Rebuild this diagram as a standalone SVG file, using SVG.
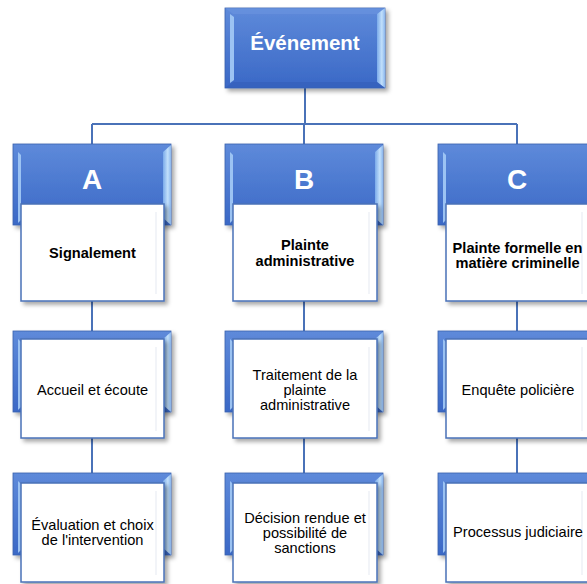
<svg xmlns="http://www.w3.org/2000/svg" width="587" height="584" viewBox="0 0 587 584">
<defs>
<linearGradient id="face" x1="0" y1="0" x2="0" y2="1">
<stop offset="0" stop-color="#5e8ada"/>
<stop offset="1" stop-color="#3a68c6"/>
</linearGradient>
<linearGradient id="rbev" x1="0" y1="0" x2="1" y2="0">
<stop offset="0" stop-color="#7aaaea"/>
<stop offset="0.6" stop-color="#c2e0fb"/>
<stop offset="1" stop-color="#8ab6ee"/>
</linearGradient>
<filter id="sh" x="-10%" y="-10%" width="130%" height="130%">
<feDropShadow dx="3" dy="3" stdDeviation="2" flood-color="#000" flood-opacity="0.35"/>
</filter>
</defs>
<style>
.face{fill:url(#face);stroke:#3b62ad;stroke-width:0.8}
.top{fill:#6a95df}
.lft{fill:#9cc3f3}
.rgt{fill:url(#rbev)}
.bot{fill:#3460bb}
.wb{fill:#ffffff;stroke:#4a72b8;stroke-width:1.5}
.inner{stroke:#eef1f6;stroke-width:1.5}
.con{fill:none;stroke:#4a72b8;stroke-width:2}
.t{font-family:"Liberation Sans",Arial,sans-serif;font-size:14.6px;fill:#000;text-anchor:middle;dominant-baseline:central}
.b{font-weight:bold}
.hd{font-family:"Liberation Sans",Arial,sans-serif;font-weight:bold;fill:#fff;text-anchor:middle}
</style>

<g id="connectors">
<path class="con" d="M305 88 V124 M92 124 H517 M92 124 V144 M304 124 V144 M517 124 V144"/>
<path class="con" d="M92 301 V331 M304 301 V331 M517 301 V331"/>
<path class="con" d="M92 438 V473 M304 438 V473 M517 438 V473"/>
</g>

<g id="evenement">
<g filter="url(#sh)">
<rect class="face" x="225" y="8" width="160" height="80"/>
</g>
<polygon class="top" points="225,8 385,8 377,14 233,14" opacity="0.6"/>
<polygon class="lft" points="230,14 234,17 234,80 230,83"/>
<polygon class="rgt" points="377,14 385,8 385,88 377,82"/>
<polygon class="bot" points="225,88 385,88 377,82 233,82" opacity="0.7"/>
<text class="hd" x="305" y="49.5" font-size="20.5">Événement</text>
</g>

<g id="A">
<g filter="url(#sh)"><rect class="face" x="13" y="144" width="158" height="81"/></g>
<polygon class="lft" points="18,152 21,155 21,220 18,223"/>
<polygon class="rgt" points="163,152 171,145 171,225 163,218"/>
<text class="hd" x="92" y="189" font-size="28">A</text>
<g filter="url(#sh)"><rect class="wb" x="21" y="204" width="143" height="97"/></g>
<line class="inner" x1="156" y1="212" x2="156" y2="294"/>
<text class="t b" x="92.5" y="253">Signalement</text>
</g>

<g id="B">
<g filter="url(#sh)"><rect class="face" x="225" y="144" width="158" height="81"/></g>
<polygon class="lft" points="230,152 233,155 233,220 230,223"/>
<polygon class="rgt" points="375,152 383,145 383,225 375,218"/>
<text class="hd" x="304" y="189" font-size="28">B</text>
<g filter="url(#sh)"><rect class="wb" x="233" y="204" width="144" height="97"/></g>
<line class="inner" x1="369" y1="212" x2="369" y2="294"/>
<text class="t b" x="305" y="245">Plainte</text>
<text class="t b" x="305" y="260.5">administrative</text>
</g>

<g id="C">
<g filter="url(#sh)"><rect class="face" x="438" y="144" width="158" height="81"/></g>
<polygon class="lft" points="443,152 446,155 446,220 443,223"/>
<text class="hd" x="517" y="189" font-size="28">C</text>
<g filter="url(#sh)"><rect class="wb" x="446" y="204" width="143" height="97"/></g>
<line class="inner" x1="582" y1="212" x2="582" y2="294"/>
<text class="t b" x="517.5" y="247.5">Plainte formelle en</text>
<text class="t b" x="517.5" y="263">matière criminelle</text>
</g>

<g id="A2">
<g filter="url(#sh)"><rect class="face" x="13" y="331" width="158" height="81"/></g>
<polygon class="lft" points="18,339 21,342 21,407 18,410"/>
<polygon class="rgt" points="163,339 171,332 171,412 163,405"/>
<g filter="url(#sh)"><rect class="wb" x="21" y="339" width="143" height="99"/></g>
<line class="inner" x1="156" y1="347" x2="156" y2="431"/>
<text class="t" x="92.5" y="390">Accueil et écoute</text>
</g>

<g id="B2">
<g filter="url(#sh)"><rect class="face" x="225" y="331" width="158" height="81"/></g>
<polygon class="lft" points="230,339 233,342 233,407 230,410"/>
<polygon class="rgt" points="375,339 383,332 383,412 375,405"/>
<g filter="url(#sh)"><rect class="wb" x="233" y="339" width="144" height="99"/></g>
<line class="inner" x1="369" y1="347" x2="369" y2="431"/>
<text class="t" x="305" y="375">Traitement de la</text>
<text class="t" x="305" y="390">plainte</text>
<text class="t" x="305" y="405">administrative</text>
</g>

<g id="C2">
<g filter="url(#sh)"><rect class="face" x="438" y="331" width="158" height="81"/></g>
<polygon class="lft" points="443,339 446,342 446,407 443,410"/>
<g filter="url(#sh)"><rect class="wb" x="446" y="339" width="143" height="99"/></g>
<line class="inner" x1="582" y1="347" x2="582" y2="431"/>
<text class="t" x="518" y="390">Enquête policière</text>
</g>

<g id="A3">
<g filter="url(#sh)"><rect class="face" x="13" y="473" width="158" height="82"/></g>
<polygon class="lft" points="18,481 21,484 21,550 18,553"/>
<polygon class="rgt" points="163,481 171,474 171,555 163,548"/>
<g filter="url(#sh)"><rect class="wb" x="21" y="483" width="143" height="99"/></g>
<line class="inner" x1="156" y1="491" x2="156" y2="575"/>
<text class="t" x="92.5" y="525">Évaluation et choix</text>
<text class="t" x="92.5" y="540">de l'intervention</text>
</g>

<g id="B3">
<g filter="url(#sh)"><rect class="face" x="225" y="473" width="158" height="82"/></g>
<polygon class="lft" points="230,481 233,484 233,550 230,553"/>
<polygon class="rgt" points="375,481 383,474 383,555 375,548"/>
<g filter="url(#sh)"><rect class="wb" x="233" y="483" width="144" height="99"/></g>
<line class="inner" x1="369" y1="491" x2="369" y2="575"/>
<text class="t" x="305" y="518">Décision rendue et</text>
<text class="t" x="305" y="533">possibilité de</text>
<text class="t" x="305" y="548">sanctions</text>
</g>

<g id="C3">
<g filter="url(#sh)"><rect class="face" x="438" y="473" width="158" height="82"/></g>
<polygon class="lft" points="443,481 446,484 446,550 443,553"/>
<g filter="url(#sh)"><rect class="wb" x="446" y="483" width="143" height="99"/></g>
<line class="inner" x1="582" y1="491" x2="582" y2="575"/>
<text class="t" x="518" y="532">Processus judiciaire</text>
</g>
</svg>
